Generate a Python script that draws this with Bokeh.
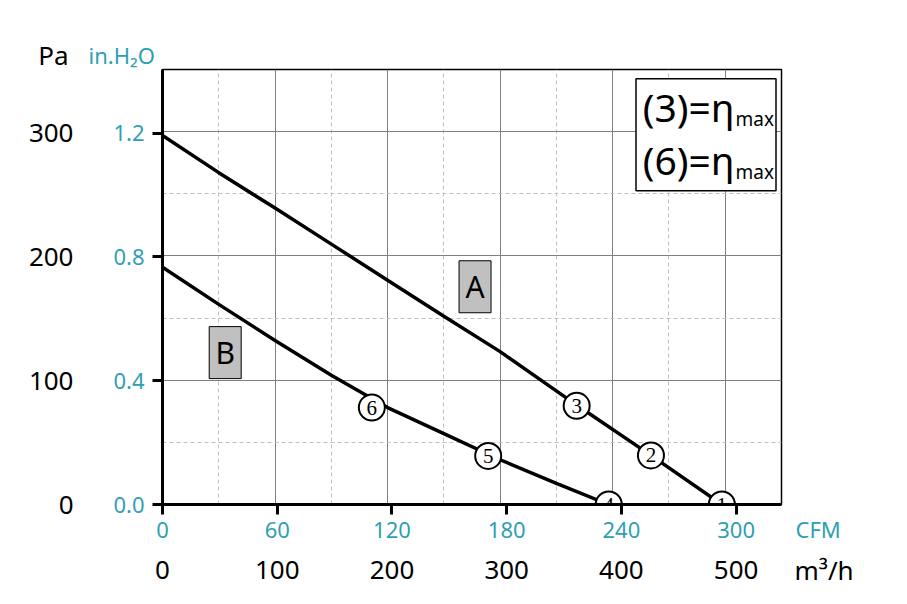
from bokeh.plotting import figure
from bokeh.models import Range1d, LinearAxis, FixedTicker, Grid, Label, PrintfTickFormatter
from bokeh.core.properties import value
from bokeh.embed import file_html
from bokeh.resources import INLINE

# ---------------- data ----------------
flow_a = [0, 50, 100, 150, 200, 250, 300, 368, 434, 497]          # m3/h
pres_a = [297, 267, 238.5, 209.5, 180.5, 151.5, 123, 80, 39.5, 0]  # Pa
flow_b = [0, 50, 100, 150, 200, 250, 300, 350, 396.5]
pres_b = [191, 161, 132, 104, 78, 57, 36, 17, 0]
pt_flow = [497, 434, 368, 396.5, 289.4, 186]
pt_pres = [0, 39.5, 79.4, 0, 39.1, 78]
pt_label = ["1", "2", "3", "4", "5", "6"]
curve_names = ["A", "B"]
curve_name_flow = [277.7, 55.7]
curve_name_pres = [175.2, 122.2]
cfm_ticks = [0, 60, 120, 180, 240, 300]
m3h_labels = [0, 100, 200, 300, 400, 500]
inh2o_ticks = [0, 0.4, 0.8, 1.2]
pa_labels = [0, 100, 200, 300]
legend_lines = ["(3)=\u03b7", "(6)=\u03b7"]
legend_sub = "max"

M3H_PER_CFM = 1.69901
PA_PER_INH2O = 249.089
X_MAX, Y_MAX = 550, 350

TEAL = "#2f9fb3"
FONT = "Noto Sans"

# frame geometry (pixels)
FL, FR, FT, FB = 162, 781, 69, 504
W, H = 907, 604


def px2x(px):
    return (px - FL) * X_MAX / (FR - FL)


def px2y(py):
    return (FB - py) * Y_MAX / (FB - FT)


p = figure(width=W, height=H, x_range=Range1d(0, X_MAX), y_range=Range1d(0, Y_MAX),
           x_axis_type=None, y_axis_type=None, output_backend="svg", toolbar_location=None,
           min_border_left=FL, min_border_right=W - FR, min_border_top=FT, min_border_bottom=H - FB)
p.outline_line_color = "black"
p.outline_line_width = 1.5
p.background_fill_color = "white"
p.border_fill_color = "white"

cfm_max = X_MAX / M3H_PER_CFM
p.extra_x_ranges = {"cfm": Range1d(0, cfm_max), "m3n": Range1d(0, cfm_max * 100 / 60)}
inh_max = Y_MAX / PA_PER_INH2O
p.extra_y_ranges = {"inh": Range1d(0, inh_max), "pan": Range1d(0, inh_max * 250)}

# grids
for dim, solid, dashed in [(0, [100, 200, 300, 400, 500], [50, 150, 250, 350, 450]),
                           (1, [100, 200, 300], [50, 150, 250])]:
    p.add_layout(Grid(dimension=dim, ticker=FixedTicker(ticks=dashed),
                      grid_line_color="#c0c0c0", grid_line_dash="4 3", grid_line_width=1))
    p.add_layout(Grid(dimension=dim, ticker=FixedTicker(ticks=solid),
                      grid_line_color="#808080", grid_line_width=1))


def style_main(ax, size):
    ax.axis_line_width = 3
    ax.axis_line_color = "black"
    ax.major_tick_line_width = 3
    ax.major_tick_line_color = "black"
    ax.major_tick_out = 10
    ax.major_tick_in = 0
    ax.minor_tick_line_color = None
    ax.major_label_text_color = TEAL
    ax.major_label_text_font = FONT
    ax.major_label_text_font_size = size


def style_outer(ax, size):
    ax.axis_line_color = None
    ax.major_tick_line_color = None
    ax.major_tick_out = 0
    ax.major_tick_in = 0
    ax.minor_tick_line_color = None
    ax.major_label_text_color = "black"
    ax.major_label_text_font = FONT
    ax.major_label_text_font_size = size


ax_cfm = LinearAxis(x_range_name="cfm", ticker=FixedTicker(ticks=cfm_ticks))
style_main(ax_cfm, "22px")
ax_cfm.major_label_standoff = 7
ax_m3 = LinearAxis(x_range_name="m3n", ticker=FixedTicker(ticks=m3h_labels))
style_outer(ax_m3, "26px")
ax_m3.major_label_standoff = 20
p.add_layout(ax_cfm, "below")
p.add_layout(ax_m3, "below")

ax_inh = LinearAxis(y_range_name="inh", ticker=FixedTicker(ticks=inh2o_ticks),
                    formatter=PrintfTickFormatter(format="%.1f"))
style_main(ax_inh, "22px")
ax_inh.major_label_standoff = 8
ax_pa = LinearAxis(y_range_name="pan", ticker=FixedTicker(ticks=pa_labels))
style_outer(ax_pa, "26px")
ax_pa.major_label_standoff = 37
p.add_layout(ax_inh, "left")
p.add_layout(ax_pa, "left")

# curves
p.line(flow_a, pres_a, line_color="black", line_width=3.5)
p.line(flow_b, pres_b, line_color="black", line_width=3.5)

# operating points
p.scatter(pt_flow, pt_pres, marker="circle", size=26, fill_color="white",
          line_color="black", line_width=2)
p.text(pt_flow, pt_pres, text=pt_label, text_font=value("Liberation Serif"),
       text_font_size="21px", text_align="center", text_baseline="middle", text_color="black")

# curve names
p.rect(curve_name_flow, curve_name_pres, width=32, height=52, width_units="screen",
       height_units="screen", fill_color="#c0c0c0", line_color="black", line_width=1)
p.text(curve_name_flow, curve_name_pres, text=curve_names, text_font=value(FONT),
       text_font_size="30px", text_align="center", text_baseline="middle", text_color="black")

# legend box
p.rect([px2x(705.5)], [px2y(134.2)], width=140, height=112, width_units="screen",
       height_units="screen", fill_color="white", line_color="black", line_width=1.5)
p.text([px2x(734)] * 2, [px2y(106.3), px2y(158.8)], text=legend_lines, text_font=value(FONT),
       text_font_size="39px", text_align="right", text_baseline="middle", text_color="black")
p.text([px2x(735)] * 2, [px2y(118.3), px2y(171.6)], text=[legend_sub] * 2, text_font=value(FONT),
       text_font_size="19px", text_align="left", text_baseline="middle", text_color="black")


# unit labels, placed in the side panels (screen units relative to their panel)
def unit_label(txt, x, y, align, color, size):
    return Label(x=x, y=y, x_units="screen", y_units="screen", text=txt,
                 text_align=align, text_baseline="middle", text_color=color,
                 text_font_size=size, text_font=FONT)


p.add_layout(unit_label("in.H\u2082O", 88 - FL, FT - 54.8, "left", TEAL, "22px"), "above")
p.add_layout(unit_label("Pa", 53 - FL, FT - 30 - 54.9, "center", "black", "26px"), "above")
p.add_layout(unit_label("CFM", 795 - FR, FB - 528.2, "left", TEAL, "22px"), "right")
p.add_layout(unit_label("m\u00b3/h", 795 - FR - 46, FB - 569.9, "left", "black", "26px"), "right")

open("out.html", "w").write(file_html(p, INLINE))
